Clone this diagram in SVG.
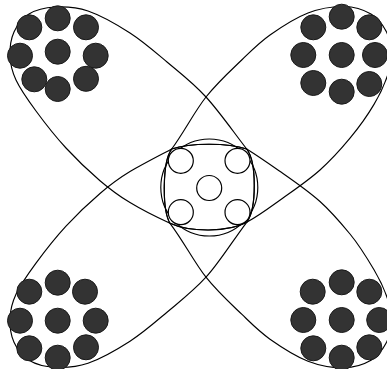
<svg xmlns="http://www.w3.org/2000/svg" width="387" height="369" viewBox="0 0 387 369">
<style>
.edge{fill:none;stroke:#000;stroke-width:1.15;}
.dark{fill:#333;stroke:#1a1a1a;stroke-width:1;}
.light{fill:#fff;stroke:#000;stroke-width:1.2;}
</style>
<rect width="387" height="369" fill="#fff"/>
<g id="connectors">
<path id="edge-tl" class="edge" d="M170,223.3 C156.3,217.1 141.7,209.7 130,202.6 C118.3,195.5 110.7,189.8 100,180.7 C89.3,171.6 76.7,159.6 66,148 C55.3,136.4 44.3,122.3 36,111 C27.7,99.7 20.3,89.2 16,80 C11.7,70.8 10.3,64 10,56 C9.7,48 10.8,39 14,32 C17.2,25 22.2,18.2 29,14 C35.8,9.8 45.2,7.5 55,7 C64.8,6.5 75.5,6.7 88,11 C100.5,15.3 116.8,24.5 130,33 C143.2,41.5 154.3,51.3 167,62 C179.7,72.7 192.7,82.5 206,97 C219.3,111.5 233.2,131.6 246.7,149 C256.8,162 256.8,209 246.7,222.3 C228,232.4 190,232.4 170,223.3 Z"/>
<path id="edge-tr" class="edge" d="M246.7,222.3 C259.5,215.4 270.8,206.7 283,198 C295.2,189.3 308.8,180 320,170 C331.2,160 341,149.1 350,138.2 C359,127.3 367.7,115.1 374,104.4 C380.3,93.7 385.2,82.7 388,74 C390.8,65.3 391.3,59.2 391,52 C390.7,44.8 389.3,37.3 386,31 C382.7,24.7 378,18.1 371,14 C364,9.9 354.5,6.7 344,6.5 C333.5,6.3 320.3,8.3 308,13 C295.7,17.75 281.1,27.2 270,35 C259,42.8 252.4,49.7 241.7,60 C231,70.3 217.7,82.2 206,97 C194.3,111.8 184,132.3 171.7,149 C162.1,162 162.1,210 170,223.3 C190,232.4 228,232.4 246.7,222.3 Z"/>
<path id="edge-bl" class="edge" d="M171.7,149 C156.3,157.1 141.7,164.5 130,171.6 C118.3,178.7 110.7,184.4 100,193.5 C89.3,202.6 76.7,214.6 66,226.2 C55.3,237.8 44.3,251.9 36,263.2 C27.7,274.5 20.3,285 16,294.2 C11.7,303.4 10.3,310.2 10,318.2 C9.7,326.2 10.8,335.2 14,342.2 C17.2,349.2 22.2,356 29,360.2 C35.8,364.4 45.2,366.7 55,367.2 C64.8,367.7 75.5,367.5 88,363.2 C100.5,358.9 116.8,349.7 130,341.2 C143.2,332.7 154.3,322.9 167,312.2 C179.7,301.5 192.7,291.7 206,277.2 C219.3,262.7 233.2,240 246.7,222.3 C256.8,209 256.8,162 246.7,149 C228,142.7 190,142.7 171.7,149 Z"/>
<path id="edge-br" class="edge" d="M246.7,149 C259.5,157 270.8,165 283,173.5 C295.2,182 308.8,191.5 320,201.5 C331.2,211.5 341,223.1 350,234 C359,244.9 367.7,259.1 374,269.8 C380.3,280.5 385.2,291.5 388,300.2 C390.8,308.9 391.3,315 391,322.2 C390.7,329.4 389.3,336.9 386,343.2 C382.7,349.5 378,356.1 371,360.2 C364,364.3 354.5,367.5 344,367.7 C333.5,367.9 320.3,365.9 308,361.2 C295.7,356.45 281.1,347 270,339.2 C259,331.4 252.4,324.5 241.7,314.2 C231,303.9 217.7,292 206,277.2 C194.3,262.4 184,241.9 170,223.3 C162.1,210 162.1,162 171.7,149 C190,142.7 228,142.7 246.7,149 Z"/>
<circle id="edge-center" class="edge" cx="209.3" cy="187.5" r="48.5"/>
</g>
<g id="tl-1"><circle class="dark" cx="57.7" cy="18.3" r="12.5"/></g>
<g id="tl-2"><circle class="dark" cx="29.3" cy="27.3" r="12.5"/></g>
<g id="tl-3"><circle class="dark" cx="86" cy="27.3" r="12.5"/></g>
<g id="tl-4"><circle class="dark" cx="20" cy="55.7" r="12.5"/></g>
<g id="tl-5"><circle class="dark" cx="57.7" cy="51.7" r="12.5"/></g>
<g id="tl-6"><circle class="dark" cx="95.7" cy="55.7" r="12.5"/></g>
<g id="tl-7"><circle class="dark" cx="34.3" cy="79.3" r="12.5"/></g>
<g id="tl-8"><circle class="dark" cx="57.7" cy="89" r="12.5"/></g>
<g id="tl-9"><circle class="dark" cx="86" cy="78.8" r="12.5"/></g>
<g id="tr-1"><circle class="dark" cx="341.7" cy="16.7" r="12.5"/></g>
<g id="tr-2"><circle class="dark" cx="313.3" cy="27.3" r="12.5"/></g>
<g id="tr-3"><circle class="dark" cx="369.3" cy="27.3" r="12.5"/></g>
<g id="tr-4"><circle class="dark" cx="303.3" cy="55" r="12.5"/></g>
<g id="tr-5"><circle class="dark" cx="341.7" cy="55" r="12.5"/></g>
<g id="tr-6"><circle class="dark" cx="375" cy="55" r="12.5"/></g>
<g id="tr-7"><circle class="dark" cx="313.3" cy="83" r="12.5"/></g>
<g id="tr-8"><circle class="dark" cx="341.7" cy="91.7" r="12.5"/></g>
<g id="tr-9"><circle class="dark" cx="369.3" cy="84" r="12.5"/></g>
<g id="bl-1"><circle class="dark" cx="57.7" cy="282.7" r="12.5"/></g>
<g id="bl-2"><circle class="dark" cx="29.3" cy="291.7" r="12.5"/></g>
<g id="bl-3"><circle class="dark" cx="85" cy="291.7" r="12.5"/></g>
<g id="bl-4"><circle class="dark" cx="20" cy="320.7" r="12.5"/></g>
<g id="bl-5"><circle class="dark" cx="57.7" cy="320.7" r="12.5"/></g>
<g id="bl-6"><circle class="dark" cx="95.7" cy="320.7" r="12.5"/></g>
<g id="bl-7"><circle class="dark" cx="29.3" cy="348.3" r="12.5"/></g>
<g id="bl-8"><circle class="dark" cx="57.7" cy="357.7" r="12.5"/></g>
<g id="bl-9"><circle class="dark" cx="86" cy="347.3" r="12.5"/></g>
<g id="br-1"><circle class="dark" cx="341.7" cy="282.3" r="12.5"/></g>
<g id="br-2"><circle class="dark" cx="312.7" cy="291.7" r="12.5"/></g>
<g id="br-3"><circle class="dark" cx="369.3" cy="291.7" r="12.5"/></g>
<g id="br-4"><circle class="dark" cx="303.3" cy="320" r="12.5"/></g>
<g id="br-5"><circle class="dark" cx="341.7" cy="320" r="12.5"/></g>
<g id="br-6"><circle class="dark" cx="379.2" cy="320" r="12.5"/></g>
<g id="br-7"><circle class="dark" cx="313.3" cy="348.3" r="12.5"/></g>
<g id="br-8"><circle class="dark" cx="341.7" cy="357.7" r="12.5"/></g>
<g id="br-9"><circle class="dark" cx="369.3" cy="347.3" r="12.5"/></g>
<g id="c-1"><circle class="light" cx="180.8" cy="160.8" r="12.5"/></g>
<g id="c-2"><circle class="light" cx="237.5" cy="160.8" r="12.5"/></g>
<g id="c-3"><circle class="light" cx="209.2" cy="188" r="12.5"/></g>
<g id="c-4"><circle class="light" cx="180.8" cy="212.2" r="12.5"/></g>
<g id="c-5"><circle class="light" cx="237.5" cy="212.2" r="12.5"/></g>
</svg>
